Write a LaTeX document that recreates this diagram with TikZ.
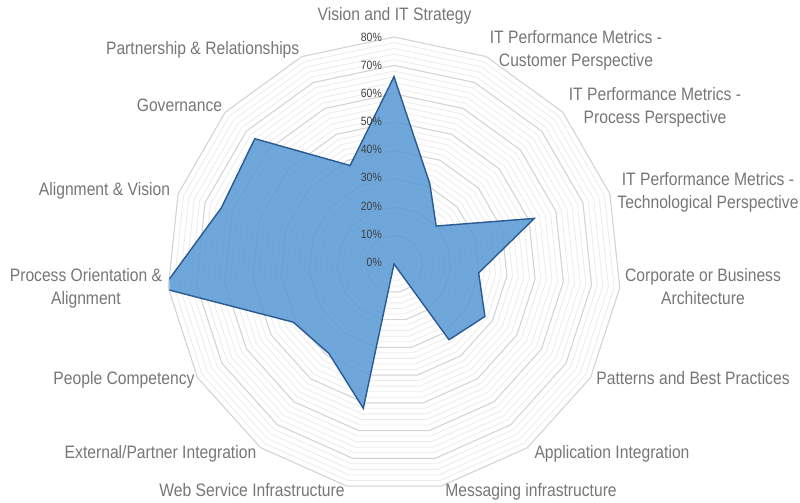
\documentclass[tikz,border=0pt]{standalone}
\usepackage{fontspec}
\setmainfont{Liberation Sans}[FakeStretch=0.87]
\definecolor{lblgray}{HTML}{767676}
\definecolor{tickgray}{HTML}{404040}
\definecolor{minorgrid}{HTML}{EBEBEB}
\definecolor{majorgrid}{HTML}{D4D4D4}
\definecolor{seriesfill}{HTML}{5B9BD5}
\definecolor{seriesline}{HTML}{2A5A92}
\begin{document}
\begin{tikzpicture}[x=1pt,y=1pt,
  lbl/.style={font=\fontsize{18}{23}\selectfont, text=lblgray, inner sep=0pt, text height=13pt, text depth=0pt},
  tick/.style={font=\fontsize{12}{14}\selectfont, text=tickgray, inner sep=0pt, anchor=east, text height=8.6pt, text depth=0pt},
  minorring/.style={draw=minorgrid, line width=0.8pt},
  majorring/.style={draw=majorgrid, line width=1pt},
  series/.style={fill=seriesfill, fill opacity=0.88, draw=seriesline, line width=1.4pt, line join=miter}]
\useasboundingbox (0,0) rectangle (800,-503);
\begin{scope}[shift={(394,-264)}]
  \foreach \k in {1,...,40}{
    \pgfmathsetmacro{\r}{227*\k/40}
    \draw[minorring] (90:\r) \foreach \i in {1,...,14}{ -- ({90-24*\i}:\r)} -- cycle;
  }
  \foreach \m in {1,...,8}{
    \pgfmathsetmacro{\r}{227*\m/8}
    \draw[majorring] (90:\r) \foreach \i in {1,...,14}{ -- ({90-24*\i}:\r)} -- cycle;
  }
  \begin{scope}
    \clip (-224.7,300) rectangle (420,-300);
    \path[series] (90:{2.8375*66})
      \foreach \i/\v in {1/31,2/20,3/52,4/30,5/37,6/33,7/0,8/52,9/39,10/41,11/82,12/64,13/66,14/38}{ -- ({90-24*\i}:{2.8375*\v})} -- cycle;
  \end{scope}
\end{scope}
\foreach \k in {0,...,8}{
  \node[tick] (t\k) at (382,{-262+28.125*\k}) {\the\numexpr\k*10\relax\%};
}
\node[lbl] (l0) at (394.5,-14) {Vision and IT Strategy};
\node[lbl] (l1a) at (576,-37) {IT Performance Metrics -};
\node[lbl] (l1b) at (576,-60) {Customer Perspective};
\node[lbl] (l2a) at (655,-94) {IT Performance Metrics -};
\node[lbl] (l2b) at (655,-117) {Process Perspective};
\node[lbl] (l3a) at (708,-178.5) {IT Performance Metrics -};
\node[lbl] (l3b) at (708,-201.5) {Technological Perspective};
\node[lbl] (l4a) at (703,-275) {Corporate or Business};
\node[lbl] (l4b) at (703,-298) {Architecture};
\node[lbl] (l5) at (693,-378) {Patterns and Best Practices};
\node[lbl] (l6) at (612,-451.5) {Application Integration};
\node[lbl] (l7) at (531,-490) {Messaging infrastructure};
\node[lbl] (l8) at (252,-489.5) {Web Service Infrastructure};
\node[lbl] (l9) at (160.5,-451.5) {External/Partner Integration};
\node[lbl] (l10) at (124,-378) {People Competency};
\node[lbl] (l11a) at (86,-275) {Process Orientation \&};
\node[lbl] (l11b) at (86,-298) {Alignment};
\node[lbl] (l12) at (104.5,-189) {Alignment \& Vision};
\node[lbl] (l13) at (179.5,-105) {Governance};
\node[lbl] (l14) at (202.7,-48) {Partnership \& Relationships};
\end{tikzpicture}
\end{document}
